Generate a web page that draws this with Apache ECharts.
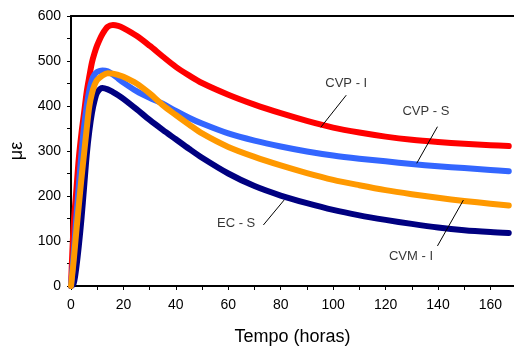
<!DOCTYPE html>
<html>
<head>
<meta charset="utf-8">
<script src="https://cdn.jsdelivr.net/npm/echarts@6/dist/echarts.min.js"></script>
<style>
  html, body { margin: 0; padding: 0; background: #fff; }
  #chart { width: 514px; height: 347px; }
</style>
</head>
<body>
<div id="chart"></div>
<script>
// time (hours) at which each curve was read
const hours = [0, 1, 2, 3, 4, 5, 6, 7, 8, 9, 10, 12, 14, 16, 18, 20, 25, 30, 35, 40, 45, 50,
  60, 70, 80, 90, 100, 110, 120, 130, 140, 150, 160, 167];

// microstrain per curve
const cvpI = [0, 135, 210, 285, 340, 385, 432, 466, 497, 518, 535, 560, 576, 580, 578, 573, 556, 534, 510, 487, 468, 451,
  425, 403, 384, 367, 352, 341, 332, 325, 320, 316, 313, 311];
const ecS = [0, 5, 40, 90, 150, 220, 292, 345, 385, 412, 430, 440, 437, 431, 424, 416, 393, 369, 347, 326, 305, 285,
  250, 222, 201, 184, 169, 157, 147, 138, 130, 124, 120, 118];
const cvpS = [0, 70, 150, 225, 295, 355, 400, 435, 458, 470, 476, 479, 477, 470, 461, 452, 433, 418, 405, 389, 374, 361,
  339, 323, 310, 299, 290, 283, 277, 271, 266, 262, 258, 255];
const cvmI = [0, 55, 120, 180, 240, 295, 350, 400, 428, 447, 458, 468, 473, 472, 469, 465, 450, 428, 402, 380, 359, 339,
  309, 287, 268, 251, 236, 224, 213, 204, 196, 189, 183, 179];

// annotation texts, where they sit and their leader lines (in data units)
const noteNames = ['CVP - I', 'CVP - S', 'EC - S', 'CVM - I'];
const noteAt = [[105, 451], [135.4, 389], [63, 138], [129.7, 65]];
const leaderFrom = [[105, 424], [139.8, 354], [73.4, 135.6], [139.8, 89]];
const leaderTo = [[95.3, 352.7], [131.9, 272.7], [81.3, 191], [149.7, 191]];

const FONT = "'Liberation Sans', Arial, sans-serif";

const chart = echarts.init(document.getElementById('chart'), null, { renderer: 'canvas' });

const pairs = (vals) => hours.map((h, i) => [h, vals[i]]);

const curve = (name, vals, color) => ({
  name: name,
  type: 'line',
  data: pairs(vals),
  smooth: 0.3,
  showSymbol: false,
  silent: true,
  lineStyle: { color: color, width: 6, cap: 'round', join: 'round' }
});

const option = {
  animation: false,
  grid: { left: 71, right: 0, top: 16, bottom: 61, outerBoundsMode: 'none' },
  xAxis: [
    {
      type: 'value',
      min: 0,
      max: 169,
      interval: 10,
      name: 'Tempo (horas)',
      nameLocation: 'middle',
      nameGap: 42,
      nameTextStyle: { fontFamily: FONT, fontSize: 18, color: '#000' },
      axisLine: { show: true, lineStyle: { color: '#000', width: 2 } },
      axisTick: { show: true, length: 4, lineStyle: { color: '#000', width: 1 } },
      axisLabel: {
        margin: 12,
        fontFamily: FONT,
        fontSize: 14,
        color: '#000',
        showMaxLabel: false,
        formatter: (v) => (v % 20 === 0 ? String(v) : '')
      },
      splitLine: { show: false }
    },
    {
      type: 'value',
      position: 'top',
      min: 0,
      max: 169,
      axisLine: { show: true, onZero: false, lineStyle: { color: '#000', width: 2 } },
      axisTick: { show: false },
      axisLabel: { show: false },
      splitLine: { show: false }
    }
  ],
  yAxis: {
    type: 'value',
    min: 0,
    max: 600,
    interval: 50,
    name: 'με',
    nameLocation: 'middle',
    nameGap: 45,
    nameTextStyle: { fontFamily: FONT, fontSize: 18, color: '#000' },
    axisLine: { show: true, lineStyle: { color: '#000', width: 2 } },
    axisTick: { show: true, length: 4, lineStyle: { color: '#000', width: 1 } },
    axisLabel: {
      margin: 10,
      fontFamily: FONT,
      fontSize: 14,
      color: '#000',
      formatter: (v) => (v % 100 === 0 ? String(v) : '')
    },
    splitLine: { show: false }
  },
  series: [
    curve('CVP - I', cvpI, '#ff0000'),
    curve('EC - S', ecS, '#000080'),
    curve('CVP - S', cvpS, '#3366ff'),
    curve('CVM - I', cvmI, '#ff9900'),
    {
      type: 'lines',
      coordinateSystem: 'cartesian2d',
      silent: true,
      z: 5,
      lineStyle: { color: '#000', width: 1, opacity: 1 },
      data: leaderFrom.map((p, i) => ({ coords: [p, leaderTo[i]] }))
    },
    {
      type: 'scatter',
      silent: true,
      symbolSize: 0,
      z: 5,
      data: noteAt.map((p, i) => ({ name: noteNames[i], value: p })),
      label: {
        show: true,
        position: 'inside',
        formatter: (p) => p.name,
        fontFamily: FONT,
        fontSize: 13,
        color: '#000'
      }
    }
  ]
};

chart.setOption(option);
</script>
</body>
</html>
